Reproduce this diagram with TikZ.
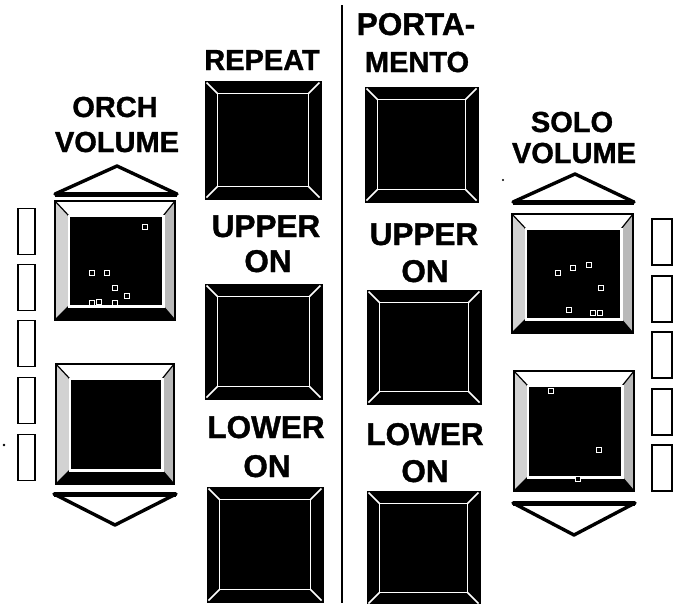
\documentclass[tikz,border=0pt]{standalone}
\usepackage{fontspec}
\setmainfont{Liberation Sans}[BoldFeatures={FakeBold=1.2}]
\tikzset{
  lbl/.style={font=\fontsize{29}{34}\selectfont\bfseries, anchor=base, inner sep=0pt},
  lblw/.style={lbl, font=\fontsize{31.5}{36}\selectfont\bfseries},
  btnbox/.style={draw=black, fill=black, line width=1pt, inner sep=0pt},
  volbox/.style={draw=black, fill=white, line width=2.4pt, inner sep=0pt},
  slot/.style={draw=black, line width=1.8pt, inner sep=0pt, minimum width=17pt, minimum height=46pt},
  arrowtri/.style={draw=black, line width=3.4pt, line join=round},
  speckst/.style={draw=white, fill=black, line width=1.1pt},
  bevelline/.style={white, line width=1.7pt},
}
% regular button: name, x1, y1, x2, y2
\newcommand\orgbtn[5]{%
  \node[btnbox, minimum width={#4-#2}, minimum height={#5-#3}] (#1) at ({(#2+#4)/2},{(#3+#5)/2}) {};
  \coordinate (#1-a) at ([shift={(13,13)}]#1.north west);
  \coordinate (#1-b) at ([shift={(-13,13)}]#1.north east);
  \coordinate (#1-c) at ([shift={(-13,-13)}]#1.south east);
  \coordinate (#1-d) at ([shift={(13,-13)}]#1.south west);
  \draw[bevelline] (#1-a) rectangle (#1-c);
  \draw[bevelline] ([shift={(2,2)}]#1.north west) -- (#1-a);
  \draw[bevelline] ([shift={(-2,2)}]#1.north east) -- (#1-b);
  \draw[bevelline] ([shift={(-2,-2)}]#1.south east) -- (#1-c);
  \draw[bevelline] ([shift={(2,-2)}]#1.south west) -- (#1-d);
}
% volume button: name, x1, y1, x2, y2
\newcommand\volbtn[5]{%
  \node[volbox, minimum width={#4-#2}, minimum height={#5-#3}] (#1) at ({(#2+#4)/2},{(#3+#5)/2}) {};
  \coordinate (#1-a) at ([shift={(14,15)}]#1.north west);
  \coordinate (#1-b) at ([shift={(-12,15)}]#1.north east);
  \coordinate (#1-c) at ([shift={(-12,-14)}]#1.south east);
  \coordinate (#1-d) at ([shift={(14,-14)}]#1.south west);
  \fill[white] (#1.north west) -- (#1.north east) -- (#1-b) -- (#1-a) -- cycle;
  \fill[gray!35] (#1.north west) -- (#1-a) -- (#1-d) -- (#1.south west) -- cycle;
  \fill[gray!55] (#1.north east) -- (#1-b) -- (#1-c) -- (#1.south east) -- cycle;
  \fill[black] (#1.south west) -- (#1-d) -- (#1-c) -- (#1.south east) -- cycle;
  \draw[black, line width=1.2pt] (#1.north west) -- (#1-a) (#1.north east) -- (#1-b)
       (#1.south east) -- (#1-c) (#1.south west) -- (#1-d);
  \draw[white, fill=black, line width=2.6pt] (#1-a) rectangle (#1-c);
  \draw[black, line width=2.4pt] (#1.north west) rectangle (#1.south east);
}
\newcommand\speck[2]{\draw[speckst] ({#1-2.5},{#2-2.5}) rectangle ++(5,5);}
\begin{document}
\begin{tikzpicture}[x=1pt,y=-1pt]
\useasboundingbox (0,0) rectangle (680,603);
\fill[white] (0,0) rectangle (680,603);

% divider
\draw[line width=2.6pt] (342,5) -- (342,603);

% labels
\node[lbl] (orch1) at (115,117) {ORCH};
\node[lbl] (orch2) at (117,152) {VOLUME};
\node[lbl] (rep) at (262,70) {REPEAT};
\node[lblw] (port1) at (416,35) {PORTA-};
\node[lbl] (port2) at (417,72) {MENTO};
\node[lbl] (solo1) at (572,132) {SOLO};
\node[lbl] (solo2) at (574,163) {VOLUME};
\node[lblw] (upL1) at (266,237) {UPPER};
\node[lblw] (upL2) at (268,272) {ON};
\node[lblw] (upR1) at (424,245) {UPPER};
\node[lblw] (upR2) at (425,282) {ON};
\node[lblw] (loL1) at (266,438) {LOWER};
\node[lblw] (loL2) at (267,477) {ON};
\node[lblw] (loR1) at (425,445) {LOWER};
\node[lblw] (loR2) at (425,482) {ON};

% regular buttons
\orgbtn{repeatb}{205}{81}{321}{199}
\orgbtn{portb}{365}{87}{478}{202}
\orgbtn{upperL}{205}{284}{322}{399}
\orgbtn{upperR}{367}{290}{481}{404}
\orgbtn{lowerL}{207}{487}{323}{602}
\orgbtn{lowerR}{367}{491}{480}{605}

% volume buttons
\volbtn{orchup}{56}{202}{174}{319}
\volbtn{orchdn}{57}{365}{173}{483}
\volbtn{soloup}{513}{215}{632}{332}
\volbtn{solodn}{515}{372}{633}{490}

% specks on volume buttons
\speck{145}{227}\speck{92}{273}\speck{107}{273}\speck{115}{288}\speck{127}{296}
\speck{92}{303}\speck{99}{302}\speck{115}{303}
\speck{558}{273}\speck{573}{268}\speck{589}{265}\speck{601}{288}\speck{569}{310}
\speck{593}{313}\speck{600}{313}
\speck{551}{391}\speck{599}{450}\speck{578}{479}

% volume arrows
\draw[arrowtri] (55,194) -- (117,166) -- (177,194) -- cycle;
\draw[line width=5pt] (55,194) -- (177,194);
\draw[arrowtri] (54,494) -- (176,494) -- (115,525) -- cycle;
\draw[line width=5pt] (54,494) -- (176,494);
\draw[arrowtri] (513,202) -- (575,174) -- (634,202) -- cycle;
\draw[line width=5pt] (513,202) -- (634,202);
\draw[arrowtri] (513,503) -- (635,503) -- (574,535) -- cycle;
\draw[line width=5pt] (513,503) -- (635,503);

% level indicator slots, left
\node[slot] (sl1) at (26.5,231.5) {};
\node[slot] (sl2) at (26.5,287.5) {};
\node[slot] (sl3) at (26.5,343.5) {};
\node[slot] (sl4) at (26.5,400.5) {};
\node[slot] (sl5) at (26.5,457.5) {};
% level indicator slots, right
\node[slot, minimum width=20pt] (sr1) at (662,242) {};
\node[slot, minimum width=20pt] (sr2) at (662,299) {};
\node[slot, minimum width=20pt] (sr3) at (662,355) {};
\node[slot, minimum width=20pt] (sr4) at (662,412) {};
\node[slot, minimum width=20pt] (sr5) at (662,468) {};

% stray marks
\fill (4,445) circle (1.4);
\fill (503,180) circle (1.2);
\end{tikzpicture}
\end{document}
